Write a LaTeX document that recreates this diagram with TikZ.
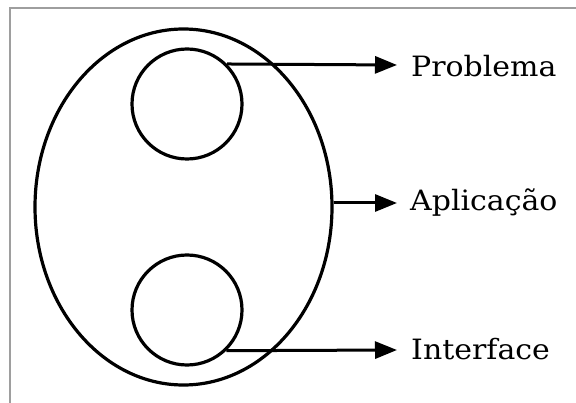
\documentclass[tikz,border=0pt]{standalone}
\usepackage{fontspec}
\setmainfont{DejaVu Serif}[FakeStretch=1.07]
\usetikzlibrary{arrows.meta,shapes.geometric}
\begin{document}
\begin{tikzpicture}[x=1pt,y=-1pt,
  outline/.style={draw=black,line width=3.2pt},
  pointer/.style={line width=3pt,-{Triangle[length=22pt,width=17pt]}},
  tag/.style={anchor=base west,inner sep=0pt,font=\fontsize{28}{32}\selectfont}]
  \useasboundingbox (0,0) rectangle (576,403);
  % frame edges
  \draw[color=black!38,line width=2.4pt] (10,403) -- (10,8) -- (576,8);
  % outer system and its two parts
  \node[outline,ellipse,minimum width=297pt,minimum height=356pt,inner sep=0pt] (app) at (183.5,207) {};
  \node[outline,circle,minimum size=110pt,inner sep=0pt] (prob) at (187,104) {};
  \node[outline,circle,minimum size=110pt,inner sep=0pt] (iface) at (187,310) {};
  % labels
  \node[tag] (lprob) at (411,77) {Problema};
  \node[tag] (lapp) at (410,211) {Aplicação};
  \node[tag] (liface) at (411,360) {Interface};
  % arrows from shapes to labels
  \coordinate (tprob) at (397,65);
  \coordinate (tapp) at (397,203);
  \coordinate (tiface) at (397,350);
  \draw[pointer] (prob.{asin(39/55)}) -- (tprob);
  \draw[pointer] (app.east |- tapp) -- (tapp);
  \draw[pointer] (iface.{-asin(40/55)}) -- (tiface);
\end{tikzpicture}
\end{document}
